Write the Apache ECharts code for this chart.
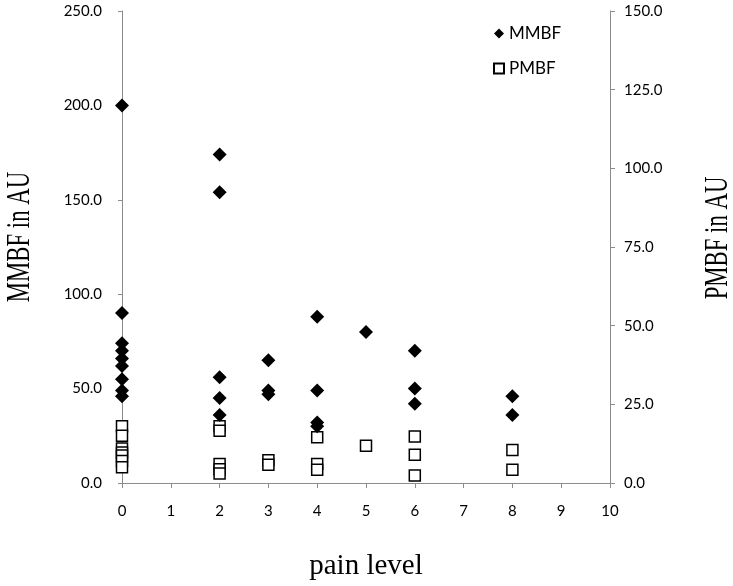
<!DOCTYPE html>
<html><head><meta charset="utf-8">
<script src="https://cdn.jsdelivr.net/npm/echarts@6/dist/echarts.min.js"></script>
<style>html,body{margin:0;padding:0;background:#fff}#c{width:733px;height:586px}</style>
</head><body><div id="c"></div>
<script>
// pain level, MMBF (left axis, AU)
const mmbfX = [0,0,0,0,0,0,0,0,0, 2,2,2,2,2, 3,3,3, 4,4,4,4, 5, 6,6,6, 8,8];
const mmbfY = [200,90,74,70,66,62,55,49,46, 174,154,56,45,36, 65,49,47, 88,49,32,30, 80, 70,50,42, 46,36];
// pain level, PMBF (right axis, AU)
const pmbfX = [0,0,0,0,0,0,0, 2,2,2,2,2, 3,3, 4,4,4, 5, 6,6,6, 8,8];
const pmbfY = [18,15,11,9.7,8.7,7,5, 18,16.6,6,4.4,3, 7.2,5.8, 14.5,6,4.2, 11.8, 14.8,9,2.4, 10.5,4.2];
const xTicks = [0,1,2,3,4,5,6,7,8,9,10];
const leftTicks = [0,50,100,150,200,250];
const rightTicks = [0,25,50,75,100,125,150];
const leftTitle = 'MMBF in AU';
const rightTitle = 'PMBF in AU';
const xTitle = 'pain level';

const chart = echarts.init(document.getElementById('c'));
const axisGray = '#8c8c8c';
const tickFont = {fontFamily:'Lato', fontSize:15, color:'#000'};
function sideTitle(text, cx, cy){
  return {type:'text', x:cx, y:cy, rotation:Math.PI/2, scaleX:0.69, scaleY:1,
    style:{text:text, x:0, y:0, fontFamily:'Liberation Serif', fontSize:33, fill:'#000',
      align:'center', verticalAlign:'middle'}};
}
chart.setOption({
  animation:false,
  grid:{left:122,right:123,top:11,bottom:102},
  graphic:[sideTitle(leftTitle, 20, 237), sideTitle(rightTitle, 718, 238)],
  legend:{
    orient:'vertical', left:488, top:20, itemGap:18, itemWidth:10, itemHeight:10,
    textStyle:{fontFamily:'Lato', fontSize:17, color:'#000'},
    data:['MMBF','PMBF']
  },
  xAxis:{
    type:'value', min:xTicks[0], max:xTicks[xTicks.length-1], interval:1,
    name:xTitle, nameLocation:'middle', nameGap:69,
    nameTextStyle:{fontFamily:'Liberation Serif', fontSize:29, color:'#000'},
    axisLine:{show:true,lineStyle:{color:axisGray,width:1}},
    axisTick:{show:true,length:5,lineStyle:{color:axisGray}},
    axisLabel:Object.assign({margin:21},tickFont),
    splitLine:{show:false}
  },
  yAxis:[{
    type:'value', min:leftTicks[0], max:leftTicks[leftTicks.length-1], interval:50, position:'left',
    axisLine:{show:true,lineStyle:{color:axisGray,width:1}},
    axisTick:{show:true,length:4,lineStyle:{color:axisGray}},
    axisLabel:Object.assign({margin:20,formatter:v=>v.toFixed(1)},tickFont),
    splitLine:{show:false}
  },{
    type:'value', min:rightTicks[0], max:rightTicks[rightTicks.length-1], interval:25, position:'right',
    axisLine:{show:true,lineStyle:{color:axisGray,width:1}},
    axisTick:{show:true,length:5,lineStyle:{color:axisGray}},
    axisLabel:Object.assign({margin:14,formatter:v=>v.toFixed(1)},tickFont),
    splitLine:{show:false}
  }],
  series:[{
    name:'PMBF', type:'scatter', yAxisIndex:1, symbol:'rect', symbolSize:11,
    itemStyle:{color:'#fff', borderColor:'#000', borderWidth:1.5, opacity:1},
    data:pmbfX.map((x,i)=>[x,pmbfY[i]]), z:2
  },{
    name:'MMBF', type:'scatter', yAxisIndex:0, symbol:'diamond', symbolSize:14,
    itemStyle:{color:'#000', opacity:1},
    data:mmbfX.map((x,i)=>[x,mmbfY[i]]), z:3
  }]
});
</script></body></html>
